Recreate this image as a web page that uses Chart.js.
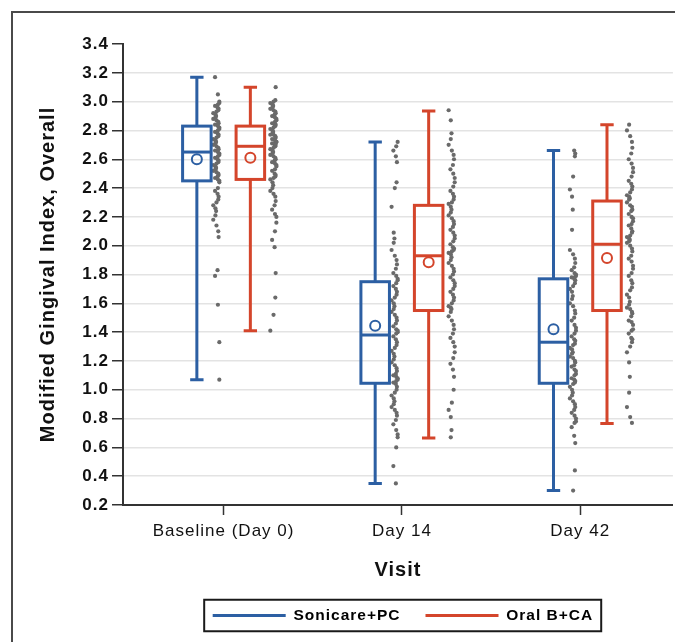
<!DOCTYPE html>
<html>
<head>
<meta charset="utf-8">
<script src="https://cdn.jsdelivr.net/npm/chart.js@4.4.1/dist/chart.umd.min.js"></script>
<style>
html,body{margin:0;padding:0;background:#fff;}
#wrap{position:relative;width:675px;height:642px;overflow:hidden;background:#fff;}
#frame{position:absolute;left:11px;top:11px;width:720px;height:720px;border:2px solid #4a4a4a;}
#c{position:absolute;left:0;top:0;}
</style>
</head>
<body>
<div id="wrap"><div id="frame"></div><canvas id="c" width="675" height="642"></canvas></div>
<script>
// ---- categories / labels ----
const visits = ['Baseline (Day 0)', 'Day 14', 'Day 42'];
const groups = ['Sonicare+PC', 'Oral B+CA'];
const yTickValues = [0.2,0.4,0.6,0.8,1.0,1.2,1.4,1.6,1.8,2.0,2.2,2.4,2.6,2.8,3.0,3.2,3.4];

// ---- box statistics (per visit) ----
const sonicareMin    = [1.07, 0.35, 0.30];
const sonicareQ1     = [2.45, 1.045, 1.045];
const sonicareMedian = [2.65, 1.38, 1.33];
const sonicareQ3     = [2.83, 1.75, 1.77];
const sonicareMax    = [3.17, 2.72, 2.66];
const sonicareMean   = [2.60, 1.445, 1.42];

const oralbMin    = [1.41, 0.665, 0.765];
const oralbQ1     = [2.46, 1.55, 1.55];
const oralbMedian = [2.69, 1.93, 2.01];
const oralbQ3     = [2.83, 2.28, 2.31];
const oralbMax    = [3.10, 2.935, 2.84];
const oralbMean   = [2.61, 1.885, 1.915];

// ---- individual subject values ----
const sonicareBaseline = [3.17,3.05,3.00,2.99,2.98,2.97,2.96,2.95,2.94,2.93,2.92,2.91,2.90,2.89,2.88,2.87,2.86,2.85,2.84,2.84,
  2.83,2.82,2.81,2.80,2.79,2.78,2.77,2.76,2.75,2.74,2.73,2.72,2.71,2.70,2.69,2.68,2.67,2.66,2.66,2.65,
  2.64,2.63,2.62,2.61,2.60,2.59,2.58,2.57,2.56,2.55,2.54,2.53,2.52,2.51,2.50,2.49,2.48,2.47,2.46,2.45,
  2.44,2.40,2.38,2.36,2.34,2.32,2.30,2.28,2.26,2.24,2.21,2.18,2.14,2.10,2.06,1.83,1.79,1.59,1.33,1.07];
const sonicareDay14 = [2.72,2.69,2.66,2.62,2.58,2.44,2.40,2.27,2.09,2.05,2.02,1.97,1.93,1.90,1.87,1.84,1.81,1.79,1.77,1.76,
  1.74,1.72,1.70,1.68,1.66,1.64,1.62,1.60,1.58,1.56,1.54,1.52,1.50,1.48,1.46,1.44,1.42,1.41,1.40,1.39,
  1.37,1.35,1.33,1.31,1.29,1.27,1.25,1.23,1.21,1.19,1.17,1.15,1.13,1.11,1.10,1.09,1.08,1.07,1.06,1.05,
  1.04,1.02,1.00,0.98,0.96,0.94,0.92,0.90,0.88,0.86,0.84,0.82,0.79,0.76,0.72,0.69,0.67,0.60,0.47,0.35];
const sonicareDay42 = [2.66,2.64,2.62,2.48,2.39,2.34,2.25,2.11,1.97,1.94,1.91,1.88,1.85,1.83,1.81,1.80,1.79,1.78,1.78,1.77,
  1.76,1.74,1.72,1.70,1.68,1.65,1.63,1.60,1.58,1.55,1.53,1.50,1.48,1.45,1.43,1.41,1.39,1.37,1.35,1.34,
  1.32,1.31,1.29,1.28,1.26,1.25,1.23,1.22,1.20,1.19,1.17,1.16,1.14,1.13,1.11,1.10,1.08,1.07,1.06,1.05,
  1.04,1.02,1.00,0.98,0.96,0.94,0.92,0.90,0.88,0.86,0.84,0.82,0.80,0.78,0.77,0.74,0.68,0.63,0.44,0.30];
const oralbBaseline = [3.10,3.01,3.00,2.99,2.98,2.97,2.96,2.95,2.94,2.93,2.92,2.91,2.90,2.89,2.88,2.87,2.86,2.85,2.84,2.84,
  2.83,2.82,2.81,2.80,2.79,2.78,2.77,2.77,2.76,2.75,2.74,2.74,2.73,2.72,2.72,2.71,2.71,2.70,2.70,2.69,
  2.68,2.67,2.66,2.65,2.64,2.63,2.62,2.61,2.60,2.59,2.58,2.57,2.56,2.55,2.53,2.52,2.50,2.49,2.48,2.47,
  2.46,2.44,2.42,2.40,2.38,2.36,2.34,2.31,2.28,2.25,2.22,2.20,2.16,2.10,2.04,1.99,1.81,1.64,1.52,1.41];
const oralbDay14 = [2.94,2.87,2.78,2.74,2.70,2.66,2.63,2.60,2.56,2.53,2.50,2.47,2.44,2.41,2.38,2.36,2.34,2.32,2.30,2.29,
  2.27,2.25,2.23,2.21,2.19,2.17,2.15,2.13,2.11,2.09,2.07,2.05,2.03,2.01,1.99,1.98,1.97,1.96,1.95,1.94,
  1.92,1.90,1.88,1.86,1.84,1.82,1.80,1.78,1.76,1.74,1.72,1.70,1.68,1.66,1.64,1.62,1.60,1.58,1.57,1.56,
  1.54,1.51,1.48,1.45,1.42,1.39,1.36,1.33,1.30,1.26,1.22,1.18,1.14,1.09,1.00,0.91,0.86,0.81,0.72,0.67];
const oralbDay42 = [2.84,2.80,2.76,2.72,2.68,2.64,2.60,2.57,2.54,2.51,2.48,2.45,2.43,2.41,2.39,2.37,2.35,2.34,2.33,2.32,
  2.30,2.28,2.27,2.25,2.24,2.22,2.20,2.19,2.17,2.15,2.14,2.12,2.10,2.09,2.07,2.06,2.05,2.04,2.03,2.02,
  2.00,1.98,1.96,1.93,1.91,1.89,1.86,1.84,1.81,1.79,1.76,1.74,1.71,1.69,1.66,1.64,1.61,1.59,1.57,1.56,
  1.54,1.53,1.51,1.48,1.47,1.45,1.42,1.41,1.39,1.36,1.35,1.33,1.30,1.26,1.19,1.09,0.98,0.88,0.81,0.77];

// ---- styling ----
const COLORS = ['#2c5fa3', '#d4452b'];
const DOT_COLOR = '#6a6a6a';
const BOX_OFFSET = [-0.15, 0.15];
const BOX_WIDTH = 0.16;
const CAP_WIDTH = 0.075;
const DOT_OFFSET = [-0.04, 0.28];
const DOT_SPREAD = 0.036;
const FONT = '"Liberation Sans", Arial, Helvetica, sans-serif';

const boxStats = [
  {min: sonicareMin, q1: sonicareQ1, med: sonicareMedian, q3: sonicareQ3, max: sonicareMax, mean: sonicareMean},
  {min: oralbMin, q1: oralbQ1, med: oralbMedian, q3: oralbQ3, max: oralbMax, mean: oralbMean}
];
const dotSets = [[sonicareBaseline, sonicareDay14, sonicareDay42], [oralbBaseline, oralbDay14, oralbDay42]];

// deterministic, irregular horizontal jitter within the dot strip
const jitter = (k) => (((k * k * 17 + k * 29 + 5) % 19) / 18) - 0.5;

const datasets = [];
dotSets.forEach((sets, g) => sets.forEach((vals, i) => {
  datasets.push({
    type: 'scatter',
    label: groups[g] + ' ' + visits[i],
    data: vals.map((v, k) => ({x: i + 1 + DOT_OFFSET[g] + DOT_SPREAD * jitter(k + g * 7 + i * 3), y: v})),
    pointRadius: 2.1,
    pointHoverRadius: 2.1,
    backgroundColor: DOT_COLOR,
    borderWidth: 0
  });
}));

const spacingPlugin = {
  id: 'spacing',
  beforeUpdate(c) { c.ctx.letterSpacing = '1px'; },
  beforeDraw(c) { c.ctx.letterSpacing = '1px'; }
};

const legendPlacePlugin = {
  id: 'legendPlace',
  afterLayout(c) {
    const lg = c.legend;
    if (!lg) return;
    lg.left = c.chartArea.left + 10;
    lg.right = c.chartArea.right;
    lg.width = lg.right - lg.left;
  },
  afterDraw(c) {
    const hb = c.legend && c.legend.legendHitBoxes;
    if (!hb || !hb.length) return;
    const first = hb[0], last = hb[hb.length - 1];
    const ctx = c.ctx;
    ctx.save();
    ctx.strokeStyle = '#1a1a1a';
    ctx.lineWidth = 2;
    const l = first.left - 8.5, r = last.left + last.width + 8;
    const t = first.top - 8, b = first.top + first.height + 8;
    ctx.strokeRect(l, t, r - l, b - t);
    ctx.restore();
  }
};

const boxPlugin = {
  id: 'boxes',
  afterDatasetsDraw(c) {
    const xs = c.scales.x, ys = c.scales.y, ctx = c.ctx;
    ctx.save();
    boxStats.forEach((s, g) => {
      ctx.strokeStyle = COLORS[g];
      ctx.lineWidth = 3;
      visits.forEach((v, i) => {
        const cv = i + 1 + BOX_OFFSET[g];
        const cx = xs.getPixelForValue(cv);
        const xl = xs.getPixelForValue(cv - BOX_WIDTH / 2);
        const xr = xs.getPixelForValue(cv + BOX_WIDTH / 2);
        const cl = xs.getPixelForValue(cv - CAP_WIDTH / 2);
        const cr = xs.getPixelForValue(cv + CAP_WIDTH / 2);
        const yMin = ys.getPixelForValue(s.min[i]);
        const yQ1 = ys.getPixelForValue(s.q1[i]);
        const yMed = ys.getPixelForValue(s.med[i]);
        const yQ3 = ys.getPixelForValue(s.q3[i]);
        const yMax = ys.getPixelForValue(s.max[i]);
        const yMean = ys.getPixelForValue(s.mean[i]);
        ctx.beginPath();
        ctx.moveTo(cx, yMax); ctx.lineTo(cx, yQ3);
        ctx.moveTo(cx, yQ1); ctx.lineTo(cx, yMin);
        ctx.moveTo(cl, yMax); ctx.lineTo(cr, yMax);
        ctx.moveTo(cl, yMin); ctx.lineTo(cr, yMin);
        ctx.stroke();
        ctx.strokeRect(xl, yQ3, xr - xl, yQ1 - yQ3);
        ctx.beginPath();
        ctx.moveTo(xl, yMed); ctx.lineTo(xr, yMed);
        ctx.stroke();
        ctx.save();
        ctx.lineWidth = 2;
        ctx.beginPath();
        ctx.arc(cx, yMean, 5, 0, Math.PI * 2);
        ctx.stroke();
        ctx.restore();
      });
    });
    ctx.restore();
  }
};

new Chart(document.getElementById('c'), {
  type: 'scatter',
  data: {datasets},
  plugins: [spacingPlugin, legendPlacePlugin, boxPlugin],
  options: {
    responsive: false,
    animation: false,
    events: [],
    layout: {padding: {top: 44, right: 0, bottom: 8.75, left: 0}},
    scales: {
      x: {
        type: 'linear',
        min: 0.4358,
        max: 3.5196,
        afterBuildTicks(s) { s.ticks = visits.map((v, i) => ({value: i + 1})); },
        afterFit(s) { s.height = 77.75; },
        ticks: {
          callback: (v) => visits[Math.round(v) - 1],
          color: '#111',
          padding: 6,
          maxRotation: 0,
          autoSkip: false,
          font: {family: FONT, size: 17}
        },
        grid: {drawOnChartArea: false, drawTicks: true, tickLength: 10, tickColor: '#333', tickWidth: 1.5},
        border: {display: true, color: '#333', width: 2},
        title: {display: true, text: 'Visit', color: '#111', padding: {top: 0, bottom: 0},
          font: {family: FONT, size: 20, weight: 'bold'}}
      },
      y: {
        type: 'linear',
        min: 0.2,
        max: 3.4,
        afterBuildTicks(s) { s.ticks = yTickValues.map(v => ({value: v})); },
        afterFit(s) { s.width = 123; },
        ticks: {
          callback: (v) => Number(v).toFixed(1),
          color: '#111',
          padding: 3,
          font: {family: FONT, size: 17, weight: 'bold'}
        },
        grid: {
          color: (c) => (c.tick && Math.abs(c.tick.value - 3.4) < 1e-6) ? 'rgba(0,0,0,0)' : '#e3e3e3',
          lineWidth: 1.5,
          drawTicks: true,
          tickLength: 11,
          tickColor: '#333',
          tickWidth: 1.5
        },
        border: {display: true, color: '#333', width: 2},
        title: {display: true, text: 'Modified Gingival Index, Overall', color: '#111',
          padding: {top: 36, bottom: 0}, font: {family: FONT, size: 20, weight: 'bold'}}
      }
    },
    plugins: {
      tooltip: {enabled: false},
      legend: {
        display: true,
        position: 'bottom',
        onClick: null,
        labels: {
          usePointStyle: true,
          pointStyleWidth: 73,
          padding: 25,
          color: '#111',
          font: {family: FONT, size: 15.5, weight: 'bold'},
          generateLabels: () => groups.map((g, i) => ({
            text: g, fillStyle: COLORS[i], strokeStyle: COLORS[i], lineWidth: 3,
            pointStyle: 'line', hidden: false, datasetIndex: i
          }))
        }
      }
    }
  }
});
</script>
</body>
</html>
